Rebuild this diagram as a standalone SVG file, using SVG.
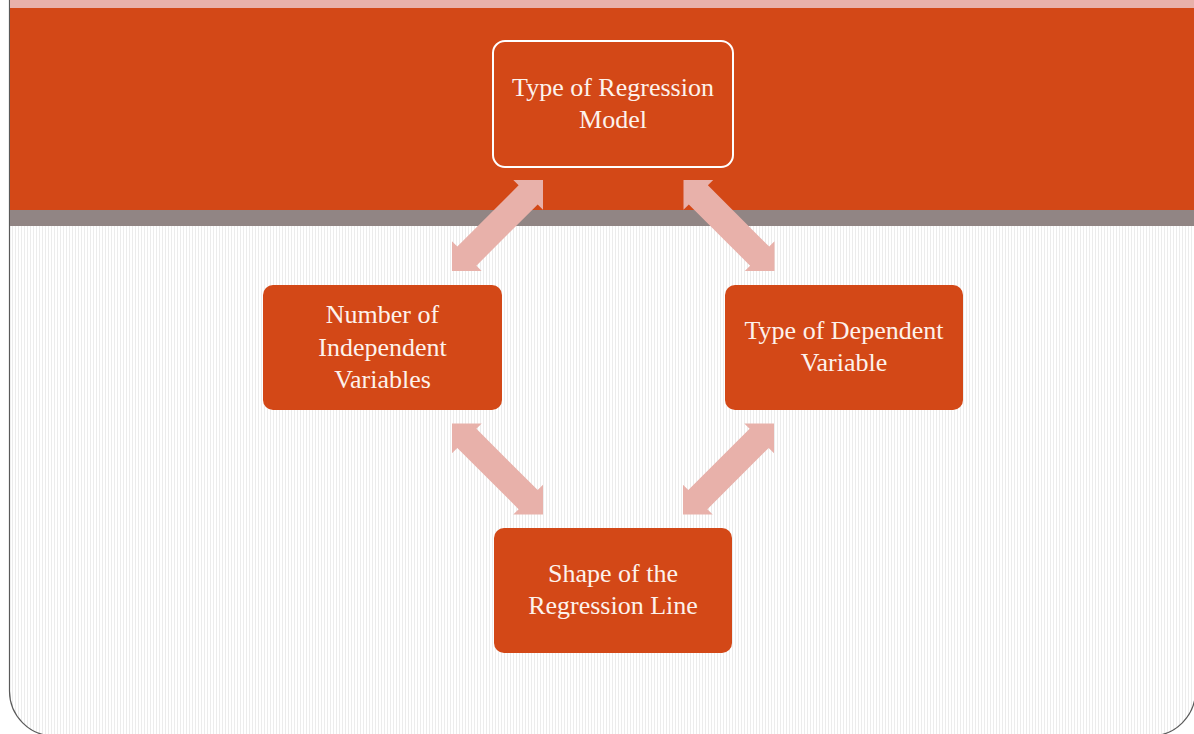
<svg xmlns="http://www.w3.org/2000/svg" width="1194" height="734" viewBox="0 0 1194 734">
  <defs>
    <pattern id="stripes" patternUnits="userSpaceOnUse" x="0" y="0" width="3" height="10">
      <rect x="0" y="0" width="3" height="10" fill="#ffffff"/>
      <rect x="0" y="0" width="1" height="10" fill="#ececec"/>
    </pattern>
    <path id="dblarrow" d="M-64.35,0 L-43.35,-21 L-43.35,-13.5 L43.35,-13.5 L43.35,-21 L64.35,0 L43.35,21 L43.35,13.5 L-43.35,13.5 L-43.35,21 Z"/>
    <style>
      .node { fill: #d34817; }
      .top-node { fill: #d34817; stroke: #ffffff; stroke-width: 2; }
      .label { font-family: "Liberation Serif", "Times New Roman", serif; font-size: 26px; fill: #fdf2ec; text-anchor: middle; }
      .arrow { fill: #e8b1aa; }
    </style>
  </defs>

  <rect x="0" y="0" width="1194" height="734" fill="#ffffff"/>

  <g id="background">
    <path d="M9.5,0 V691 A45,45 0 0 0 54.5,736 H1150.5 A45,45 0 0 0 1195.5,691 V0 Z" fill="url(#stripes)" stroke="#5a5a5a" stroke-width="1.2"/>
    <rect x="10" y="0" width="1184" height="8" fill="#e8b1aa"/>
    <rect x="10" y="8" width="1184" height="202" fill="#d34817"/>
    <rect x="10" y="210" width="1184" height="16" fill="#918584"/>
  </g>

  <g id="connectors">
    <use href="#dblarrow" class="arrow" transform="translate(497.5,225.5) rotate(-45)"/>
    <use href="#dblarrow" class="arrow" transform="translate(729,225.5) rotate(45)"/>
    <use href="#dblarrow" class="arrow" transform="translate(497.5,469) rotate(45)"/>
    <use href="#dblarrow" class="arrow" transform="translate(728.5,469) rotate(-45)"/>
  </g>

  <g id="node-model">
    <rect class="top-node" x="493" y="41" width="240" height="126" rx="12"/>
    <text class="label" x="613" y="96">Type of Regression</text>
    <text class="label" x="613" y="127.5">Model</text>
  </g>

  <g id="node-independent">
    <rect class="node" x="263" y="285" width="239" height="125" rx="10"/>
    <text class="label" x="382.5" y="323">Number of</text>
    <text class="label" x="382.5" y="355.5">Independent</text>
    <text class="label" x="382.5" y="388">Variables</text>
  </g>

  <g id="node-dependent">
    <rect class="node" x="725" y="285" width="238" height="125" rx="10"/>
    <text class="label" x="844" y="339">Type of Dependent</text>
    <text class="label" x="844" y="370.5">Variable</text>
  </g>

  <g id="node-shape">
    <rect class="node" x="494" y="528" width="238" height="125" rx="10"/>
    <text class="label" x="613" y="582">Shape of the</text>
    <text class="label" x="613" y="614">Regression Line</text>
  </g>
</svg>
